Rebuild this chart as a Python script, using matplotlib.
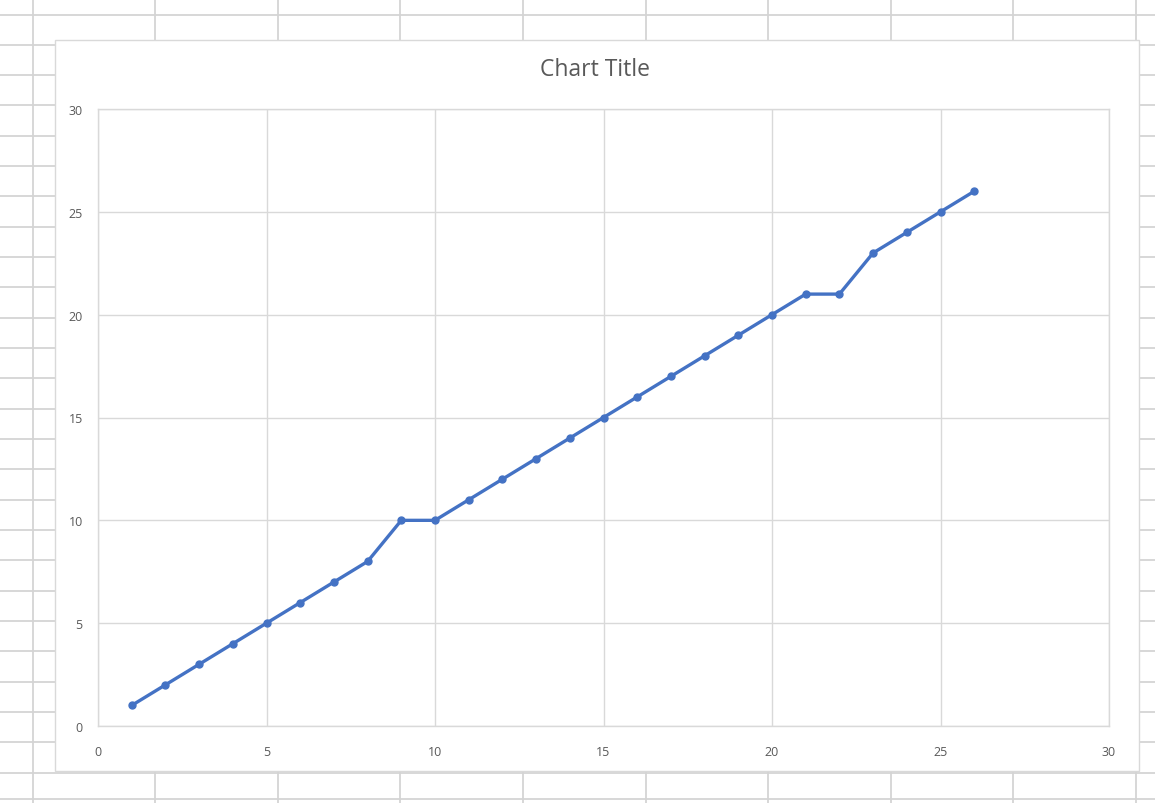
import numpy as np
import matplotlib
matplotlib.use("Agg")
import matplotlib.pyplot as plt
from matplotlib.patches import Rectangle

# data
x_vals = list(range(1, 27))
y_vals = [1, 2, 3, 4, 5, 6, 7, 8, 10, 10, 11, 12, 13, 14, 15, 16, 17, 18,
          19, 20, 21, 21, 23, 24, 25, 26]
ticks = [0, 5, 10, 15, 20, 25, 30]
title = "Chart Title"

W, H = 1155, 804
fig = plt.figure(figsize=(W / 100, H / 100), dpi=100)
fig.patch.set_facecolor("white")

# spreadsheet cell grid behind the chart
bg = fig.add_axes([0, 0, 1, 1], zorder=0)
bg.set_xlim(0, W)
bg.set_ylim(H, 0)
bg.axis("off")
cell_col = "#d4d4d4"
for xc in np.arange(32.5, W, 122.6):
    bg.plot([xc, xc], [0, H], color=cell_col, lw=1.3, solid_capstyle="butt")
for yc in np.arange(15.5, H - 20, 30.33):
    bg.plot([0, W], [yc, yc], color=cell_col, lw=1.3, solid_capstyle="butt")
bg.plot([0, W], [800, 800], color=cell_col, lw=1.3)

# chart box
bg.add_patch(Rectangle((55, 41), 1139 - 55, 772 - 41, facecolor="white",
                       edgecolor="#d9d9d9", lw=1.0, zorder=5))
bg.text(595, 70, title, ha="center", va="center",
        fontsize=16.5, color="#595959", family="Open Sans", zorder=6)

# plot area
left, right, top, bottom = 98, 1109, 110, 727
ax = fig.add_axes([left / W, 1 - bottom / H, (right - left) / W, (bottom - top) / H],
                  zorder=2)
ax.set_facecolor("none")
ax.plot(x_vals, y_vals, color="#4472c4", lw=2.4, marker="o", markersize=5,
        zorder=3, clip_on=False)
ax.set_xlim(0, 30)
ax.set_ylim(0, 30)
ax.set_xticks(ticks)
ax.set_yticks(ticks)
ax.grid(True, color="#d9d9d9", lw=1.0)
ax.set_axisbelow(True)
for s in ax.spines.values():
    s.set_color("#d9d9d9")
    s.set_linewidth(1.0)
ax.tick_params(length=0, labelsize=9, labelcolor="#595959")
ax.tick_params(axis="x", pad=14)
ax.tick_params(axis="y", pad=11)
for lab in ax.get_xticklabels() + ax.get_yticklabels():
    lab.set_family("Open Sans")

fig.savefig("out.png", dpi=100)
